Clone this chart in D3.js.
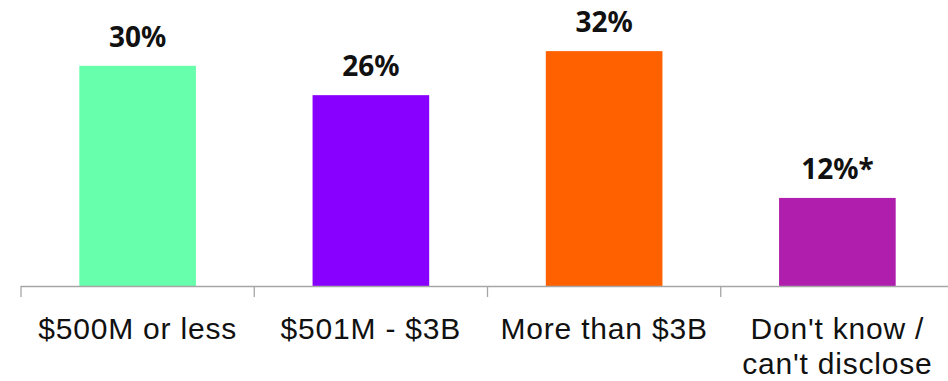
<!DOCTYPE html>
<html>
<head>
<meta charset="utf-8">
<script src="https://cdn.jsdelivr.net/npm/d3@7"></script>
<style>
  html, body { margin: 0; padding: 0; background: #fff; }
  svg { display: block; }
  text { font-family: "Noto Sans", "DejaVu Sans", sans-serif; fill: #111; }
  text.cat { font-family: "Liberation Sans", Arial, sans-serif; }
</style>
</head>
<body>
<svg id="chart" width="948" height="381"></svg>
<script>
// Share of respondents by company revenue
const categories = ["$500M or less", "$501M - $3B", "More than $3B", "Don't know /\ncan't disclose"];
const values = [30, 26, 32, 12];
const valueLabels = ["30%", "26%", "32%", "12%*"];
const colors = ["#68FFAC", "#8800FF", "#FF6000", "#B01EAE"];

const svg = d3.select("#chart");
const baseY = 286;

const x = d3.scaleBand()
  .domain(categories)
  .range([21, 954])
  .paddingInner(0.5)
  .paddingOuter(0.25);

const y = d3.scaleLinear()
  .domain([0, 35])
  .range([baseY, baseY - 35 * 7.34]);

// bars
svg.append("g").selectAll("rect")
  .data(categories)
  .join("rect")
  .attr("x", d => x(d))
  .attr("width", x.bandwidth())
  .attr("y", (d, i) => y(values[i]))
  .attr("height", (d, i) => y(0) - y(values[i]))
  .attr("fill", (d, i) => colors[i]);

// value labels
svg.append("g").selectAll("text")
  .data(categories)
  .join("text")
  .attr("x", d => x(d) + x.bandwidth() / 2)
  .attr("y", (d, i) => y(values[i]) - 19)
  .attr("text-anchor", "middle")
  .style("font-size", "28px")
  .style("font-weight", "700")
  .text((d, i) => valueLabels[i]);

// category axis: baseline plus ticks at band boundaries
const axis = svg.append("g").attr("stroke", "#a6a6a6").attr("stroke-width", 1.3);
axis.append("line")
  .attr("x1", x.range()[0]).attr("x2", 948)
  .attr("y1", baseY + 0.5).attr("y2", baseY + 0.5);
const step = x.step();
const bounds = categories.map((d, i) => x.range()[0] + i * step);
axis.selectAll("line.tick")
  .data(bounds)
  .join("line")
  .attr("class", "tick")
  .attr("x1", d => d).attr("x2", d => d)
  .attr("y1", baseY).attr("y2", baseY + 11);

// category labels, one text element per line
const lines = [];
categories.forEach(c => c.split("\n").forEach((t, k) => lines.push({ c, t, k })));
svg.append("g").selectAll("text")
  .data(lines)
  .join("text")
  .attr("class", "cat")
  .attr("x", d => x(d.c) + x.bandwidth() / 2)
  .attr("y", d => 339 + d.k * 35)
  .attr("text-anchor", "middle")
  .style("font-size", "30px")
  .style("letter-spacing", "0.8px")
  .text(d => d.t);
</script>
</body>
</html>
